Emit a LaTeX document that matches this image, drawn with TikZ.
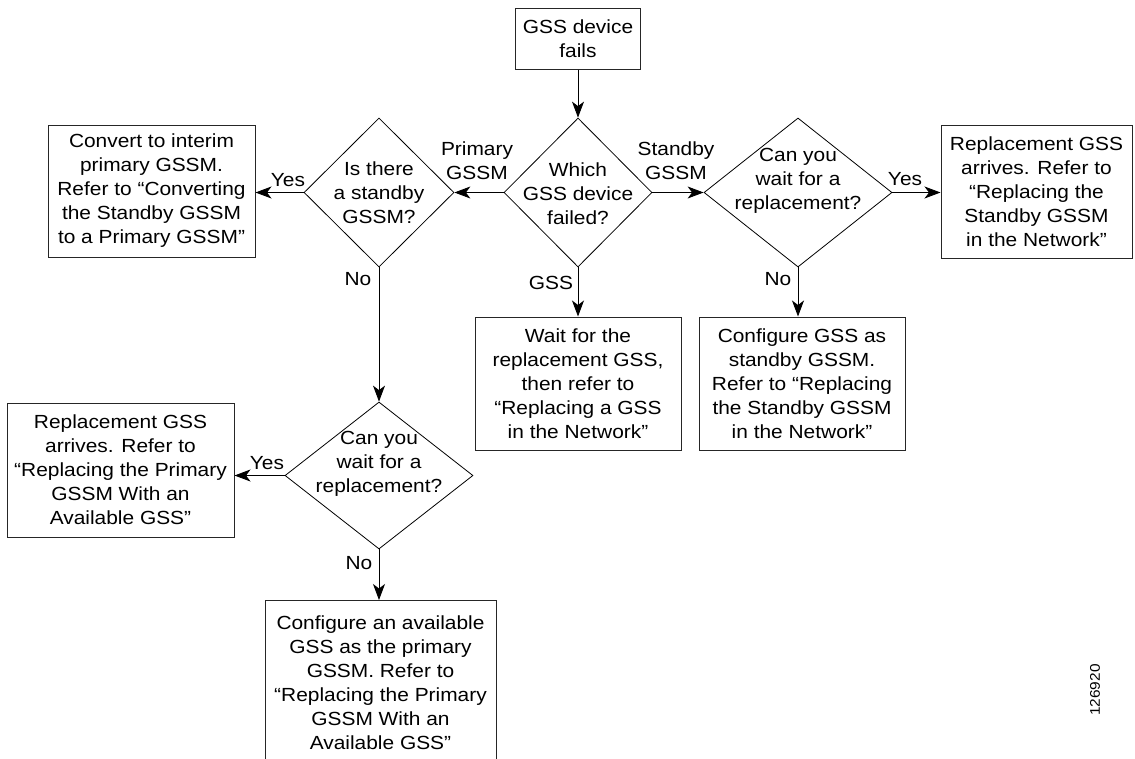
\documentclass[tikz,border=0pt]{standalone}
\usepackage{fontspec}
\setmainfont{Liberation Sans}[FakeStretch=1.1]
\usetikzlibrary{shapes.geometric,arrows.meta}
\begin{document}
\begin{tikzpicture}[x=1pt,y=-1pt,
  font=\fontsize{19}{24}\selectfont,
  box/.style 2 args={draw=black!85, line width=1pt, minimum width=#1, minimum height=#2, inner sep=0pt, align=center},
  dia/.style 2 args={draw=black, line width=0.8pt, shape=diamond, minimum width=#1, minimum height=#2, inner sep=0pt},
  txt/.style={align=center, inner sep=0pt},
  lbl/.style={align=center, inner sep=0pt},
  arr/.style={line width=0.9pt, -{Stealth[length=16pt,width=12pt,inset=4.5pt]}}
]
\useasboundingbox (0,0) rectangle (1135,758);

% process boxes
\node[box={125}{61}] (start) at (578,38.5) {GSS device\\fails};
\node[box={207}{132}] (convert) at (151.5,191) {Convert to interim\\primary GSSM.\\Refer to “Converting\\the Standby GSSM\\to a Primary GSSM”};
\node[box={191}{133}] (rright) at (1036.5,191.5) {Replacement GSS\\arrives. Refer to\\“Replacing the\\Standby GSSM\\in the Network”};
\node[box={206}{133}] (wait) at (578,383.5) {Wait for the\\replacement GSS,\\then refer to\\“Replacing a GSS\\in the Network”};
\node[box={206}{133}] (csb) at (802,383.5) {Configure GSS as\\standby GSSM.\\Refer to “Replacing\\the Standby GSSM\\in the Network”};
\node[box={227}{134}] (rleft) at (120.5,470) {Replacement GSS\\arrives. Refer to\\“Replacing the Primary\\GSSM With an\\Available GSS”};
\node[box={231}{164}, anchor=north] (cav) at (380.5,600) {Configure an available\\GSS as the primary\\GSSM. Refer to\\“Replacing the Primary\\GSSM With an\\Available GSS”};

% decisions
\node[dia={148}{149}] (d1) at (578,192.5) {};
\node[txt] (d1t) at (578,193.5) {Which\\GSS device\\failed?};
\node[dia={150}{149}] (d2) at (379,192.5) {};
\node[txt] (d2t) at (379,192.5) {Is there\\a standby\\GSSM?};
\node[dia={188}{149}] (d4) at (798,192.5) {};
\node[txt] (d4t) at (798,181) {Can you\\wait for a\\replacement?};
\node[dia={188}{147}] (d3) at (379,475.5) {};
\node[txt] (d3t) at (379,464) {Can you\\wait for a\\replacement?};

% connectors
\draw[arr] (start) -- (d1);
\draw[arr] (d1.west) -- (d2.east);
\draw[arr] (d1.east) -- (d4.west);
\draw[arr] (d1.south) -- (d1.south |- wait.north);
\draw[arr] (d2.west) -- (d2.west -| convert.east);
\draw[arr] (d2.south) -- (d3.north);
\draw[arr] (d4.east) -- (d4.east -| rright.west);
\draw[arr] (d4.south) -- (d4.south |- csb.north);
\draw[arr] (d3.west) -- (d3.west -| rleft.east);
\draw[arr] (d3.south) -- (d3.south |- cav.north);

% labels
\node[lbl] (lprim) at (477,161) {Primary\\GSSM};
\node[lbl] (lstby) at (676,161) {Standby\\GSSM};
\node[lbl] (lgss) at (551,283) {GSS};
\node[lbl] (ly2) at (288,180) {Yes};
\node[lbl] (ln2) at (358,279) {No};
\node[lbl] (ly4) at (905,179) {Yes};
\node[lbl] (ln4) at (778,279) {No};
\node[lbl] (ly3) at (267,463) {Yes};
\node[lbl] (ln3) at (359,563) {No};
\node[rotate=90, inner sep=0pt, font=\fontsize{14}{16}\selectfont] (fig) at (1095,690) {126920};
\end{tikzpicture}
\end{document}
